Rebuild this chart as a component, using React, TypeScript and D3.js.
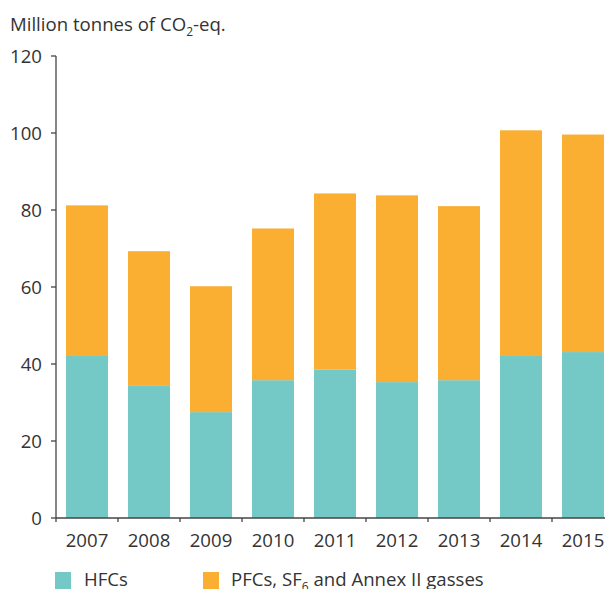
import React from "react";
import * as d3 from "d3";

const years = ["2007", "2008", "2009", "2010", "2011", "2012", "2013", "2014", "2015"];
const hfcs = [42.3, 34.5, 27.5, 35.8, 38.6, 35.3, 35.8, 42.3, 43.1];
const pfcsSf6Annex = [38.9, 34.8, 32.7, 39.4, 45.7, 48.5, 45.2, 58.4, 56.5];
const yTicks = [0, 20, 40, 60, 80, 100, 120];

const W = 605;
const H = 589;
const FONT = "'Open Sans', 'Noto Sans', sans-serif";
const FS = 18.6;
const TEXT = "#333333";
const AXIS = "#444444";
const TEAL = "#74C9C6";
const ORANGE = "#FAAF33";

export default function App() {
  const x = d3
    .scaleBand<string>()
    .domain(years)
    .range([56, 614])
    .paddingInner(20 / 62)
    .paddingOuter(10 / 62);
  const y = d3.scaleLinear().domain([0, 120]).range([518, 56]);
  const step = x.step();
  const boundaries = years.map((yr) => (x(yr) as number) - step * (10 / 62));

  return (
    <svg
      width={W}
      height={H}
      style={{ position: "absolute", left: 0, top: 0, background: "#fff" }}
      fontFamily={FONT}
    >
      {/* title */}
      <text x={10} y={31} fontSize={FS} fill={TEXT}>
        Million tonnes of CO
        <tspan fontSize={12} dy={5}>2</tspan>
        <tspan dy={-5}>-eq.</tspan>
      </text>

      {/* bars */}
      {years.map((yr, i) => {
        const bx = x(yr) as number;
        const bw = x.bandwidth();
        const h0 = hfcs[i];
        const h1 = hfcs[i] + pfcsSf6Annex[i];
        return (
          <g key={yr}>
            <rect x={bx} y={y(h0)} width={bw} height={y(0) - y(h0)} fill={TEAL} />
            <rect x={bx} y={y(h1)} width={bw} height={y(h0) - y(h1)} fill={ORANGE} />
          </g>
        );
      })}

      {/* y axis */}
      <line x1={56} x2={56} y1={y(0)} y2={y(120)} stroke={AXIS} strokeWidth={1.3} />
      {yTicks.map((t) => (
        <g key={t}>
          <line x1={51} x2={56} y1={y(t)} y2={y(t)} stroke={AXIS} strokeWidth={1.3} />
          <text x={42} y={y(t)} dy="0.35em" textAnchor="end" fontSize={FS} fill={TEXT}>
            {t}
          </text>
        </g>
      ))}

      {/* x axis */}
      <line x1={56} x2={W} y1={y(0)} y2={y(0)} stroke={AXIS} strokeWidth={1.3} />
      {boundaries.map((b, i) => (
        <line key={i} x1={b} x2={b} y1={y(0)} y2={y(0) + 4} stroke={AXIS} strokeWidth={1.3} />
      ))}
      {years.map((yr) => (
        <text
          key={yr}
          x={(x(yr) as number) + x.bandwidth() / 2}
          y={547}
          textAnchor="middle"
          fontSize={FS}
          fill={TEXT}
        >
          {yr}
        </text>
      ))}

      {/* legend */}
      <rect x={55} y={572} width={16} height={17} fill={TEAL} />
      <text x={84} y={586} fontSize={FS} fill={TEXT}>HFCs</text>
      <rect x={203} y={572} width={16} height={17} fill={ORANGE} />
      <text x={231} y={586} fontSize={FS} fill={TEXT}>
        PFCs, SF
        <tspan fontSize={12} dy={5}>6</tspan>
        <tspan dy={-5}> and Annex II gasses</tspan>
      </text>
    </svg>
  );
}
